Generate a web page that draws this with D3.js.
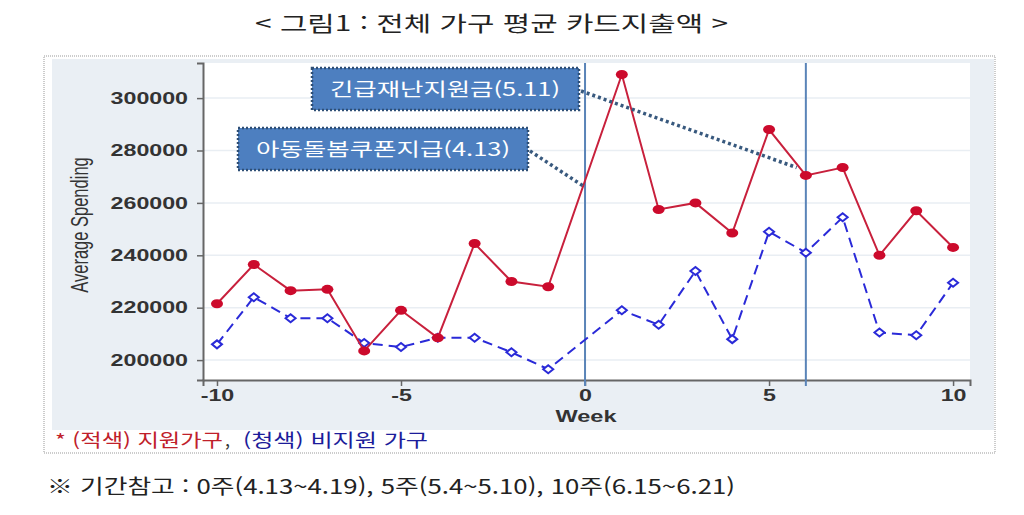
<!DOCTYPE html>
<html lang="ko">
	<head>
		<meta charset="utf-8">
		<title>전체 가구 평균 카드지출액</title>
		<script type="text/javascript" src="https://cdn.jsdelivr.net/npm/d3@7"></script>
		<style type="text/css">
			body { margin: 0; background: #fff; }
			svg { display: block; }
		</style>
	</head>
	<body>
		<script type="text/javascript">

			//Chart data (week 0 has no observation in the source)
			let weeks     = [-10, -9, -8, -7, -6, -5, -4, -3, -2, -1, 1, 2, 3, 4, 5, 6, 7, 8, 9, 10];
			let supported = [221500, 236500, 226500, 227000, 203500, 219000, 208500, 244500, 230000, 228000,
			                 309000, 257500, 260000, 248500, 288000, 270500, 273500, 240000, 257000, 243000];
			let notSupported = [206000, 224000, 216000, 216000, 206500, 205000, 208500, 208500, 203000, 196500,
			                    219000, 213500, 234000, 208000, 249000, 241000, 254500, 210500, 209500, 229500];
			let yTicks = [200000, 220000, 240000, 260000, 280000, 300000];
			let xTicks = [-10, -5, 0, 5, 10];
			let markerWeeks = [0, 6];
			let notes = ["긴급재난지원금(5.11)", "아동돌봄쿠폰지급(4.13)"];
			let noteTargets = [[5.75, 273500], [0, 266000]];

			let w = 1024;
			let h = 515;
			let stretch = 1.45;   //source picture is widened horizontally

			let svg = d3.select("body")
						.append("svg")
						  .attr("width", w)
						  .attr("height", h);

			//Title
			svg.append("text")
				.attr("x", 255).attr("y", 31)
				.attr("textLength", 473).attr("lengthAdjust", "spacingAndGlyphs")
				.style("font-family", "'Noto Sans CJK KR'")
				.style("font-size", "21px")
				.style("fill", "#222")
				.text("< 그림1 : 전체 가구 평균 카드지출액 >");

			//Outer dotted frame and grey panel
			svg.append("rect")
				.attr("x", 44).attr("y", 56).attr("width", 951).attr("height", 397)
				.style("fill", "none").style("stroke", "#999").style("stroke-dasharray", "1,1");
			svg.append("rect")
				.attr("x", 52).attr("y", 59).attr("width", 942).attr("height", 371)
				.style("fill", "#eaeff4");

			//Scales
			let x = d3.scaleLinear().domain([-10.38, 10.46]).range([203, 970]);
			let y = d3.scaleLinear().domain([192400, 313400]).range([380, 63]);

			//Plot area
			svg.append("rect")
				.attr("x", 203).attr("y", 63).attr("width", 767).attr("height", 317)
				.style("fill", "#fff");

			//Gridlines
			svg.selectAll("line.grid")
				.data(yTicks)
				.enter()
			  .append("line")
				.attr("class", "grid")
				.attr("x1", 203).attr("x2", 970)
				.attr("y1", d => y(d)).attr("y2", d => y(d))
				.style("stroke", "#e9eef3").style("stroke-width", 1.5);

			//Axes
			let yAxis = svg.append("g")
				.attr("transform", "translate(203,0)")
				.call(d3.axisLeft(y).tickValues(yTicks).tickSize(6).tickPadding(9).tickFormat(d => String(d)));
			let xAxis = svg.append("g")
				.attr("transform", "translate(0,380)")
				.call(d3.axisBottom(x).tickValues(xTicks).tickSize(6).tickPadding(4).tickFormat(d => String(d)));

			[yAxis, xAxis].forEach(g => {
				g.select(".domain").style("stroke", "#666").style("stroke-width", 2);
				g.selectAll(".tick line").style("stroke", "#666").style("stroke-width", 1.5);
				g.selectAll(".tick text")
					.style("font-family", "'Liberation Sans', Arial")
					.style("font-size", "16px")
					.style("font-weight", "bold")
					.style("fill", "#333");
			});
			//Widen tick labels like the source
			svg.selectAll(".tick text").each(function() {
				let len = this.getComputedTextLength();
				d3.select(this).attr("textLength", len * stretch).attr("lengthAdjust", "spacingAndGlyphs");
			});

			//Axis titles
			svg.append("text")
				.attr("x", 586).attr("y", 422)
				.attr("text-anchor", "middle")
				.attr("textLength", 61).attr("lengthAdjust", "spacingAndGlyphs")
				.style("font-family", "'Liberation Sans', Arial")
				.style("font-size", "16px").style("font-weight", "bold").style("fill", "#333")
				.text("Week");
			svg.append("text")
				.attr("transform", `translate(88,225) scale(${stretch},1) rotate(-90)`)
				.attr("text-anchor", "middle")
				.style("font-family", "'Liberation Sans', Arial")
				.style("font-size", "16.5px").style("fill", "#333")
				.text("Average Spending");

			//Vertical reference weeks
			svg.selectAll("line.ref")
				.data(markerWeeks)
				.enter()
			  .append("line")
				.attr("class", "ref")
				.attr("x1", d => x(d)).attr("x2", d => x(d))
				.attr("y1", 63).attr("y2", 386)
				.style("stroke", "#5a84b8").style("stroke-width", 2);

			let line = d3.line()
				.x((d, i) => x(weeks[i]))
				.y(d => y(d));

			//Non-supported households (blue, dashed, hollow diamonds)
			svg.append("path")
				.datum(notSupported)
				.attr("d", line)
				.style("fill", "none").style("stroke", "#2a2ad8")
				.style("stroke-width", 2).style("stroke-dasharray", "10,6");
			svg.selectAll("path.diamond")
				.data(notSupported)
				.enter()
			  .append("path")
				.attr("class", "diamond")
				.attr("d", "M0,-4 L5,0 L0,4 L-5,0 Z")
				.attr("transform", (d, i) => `translate(${x(weeks[i])},${y(d)})`)
				.style("fill", "#fff").style("stroke", "#2a2ad8").style("stroke-width", 2);

			//Supported households (red, solid, filled circles)
			svg.append("path")
				.datum(supported)
				.attr("d", line)
				.style("fill", "none").style("stroke", "#c8203c").style("stroke-width", 2);
			svg.selectAll("ellipse.dot")
				.data(supported)
				.enter()
			  .append("ellipse")
				.attr("class", "dot")
				.attr("cx", (d, i) => x(weeks[i]))
				.attr("cy", d => y(d))
				.attr("rx", 6).attr("ry", 4.5)
				.style("fill", "#cc0a2c");

			//Annotation boxes with dotted leaders
			let boxes = [
				{ x: 312, y: 68, w: 267, h: 42, tx: 330, tl: 230 },
				{ x: 238, y: 128, w: 290, h: 42, tx: 256, tl: 254 }
			];
			boxes.forEach((b, i) => {
				let t = noteTargets[i];
				svg.append("line")
					.attr("x1", b.x + b.w + 2).attr("y1", b.y + b.h / 2 + 2)
					.attr("x2", x(t[0])).attr("y2", y(t[1]))
					.style("stroke", "#38597e").style("stroke-width", 3.5)
					.style("stroke-dasharray", "3,3");
				svg.append("rect")
					.attr("x", b.x).attr("y", b.y).attr("width", b.w).attr("height", b.h)
					.style("fill", "#4d7fc0").style("stroke", "#2e4e74")
					.style("stroke-width", 2.5).style("stroke-dasharray", "2,2");
				svg.append("text")
					.attr("x", b.tx).attr("y", b.y + b.h / 2 + 7)
					.attr("textLength", b.tl).attr("lengthAdjust", "spacingAndGlyphs")
					.style("font-family", "'Noto Sans CJK KR'")
					.style("font-size", "18px").style("fill", "#fff")
					.text(notes[i]);
			});

			//Legend note inside the panel
			let legendFont = "'Noto Sans CJK KR'";
			svg.append("text")
				.attr("x", 55).attr("y", 447)
				.attr("textLength", 168).attr("lengthAdjust", "spacingAndGlyphs")
				.style("font-family", legendFont).style("font-size", "18px").style("fill", "#c0202a")
				.text("* (적색) 지원가구");
			svg.append("text")
				.attr("x", 225).attr("y", 447)
				.style("font-family", legendFont).style("font-size", "18px").style("fill", "#333")
				.text(",");
			svg.append("text")
				.attr("x", 243).attr("y", 447)
				.attr("textLength", 185).attr("lengthAdjust", "spacingAndGlyphs")
				.style("font-family", legendFont).style("font-size", "18px").style("fill", "#1c1c9a")
				.text("(청색) 비지원 가구");

			//Footnote
			svg.append("text")
				.attr("x", 47).attr("y", 494)
				.attr("textLength", 688).attr("lengthAdjust", "spacingAndGlyphs")
				.style("font-family", "'Noto Sans CJK KR'")
				.style("font-size", "20px").style("fill", "#222")
				.text("※ 기간참고 : 0주(4.13~4.19), 5주(5.4~5.10), 10주(6.15~6.21)");

		</script>
	</body>
</html>
